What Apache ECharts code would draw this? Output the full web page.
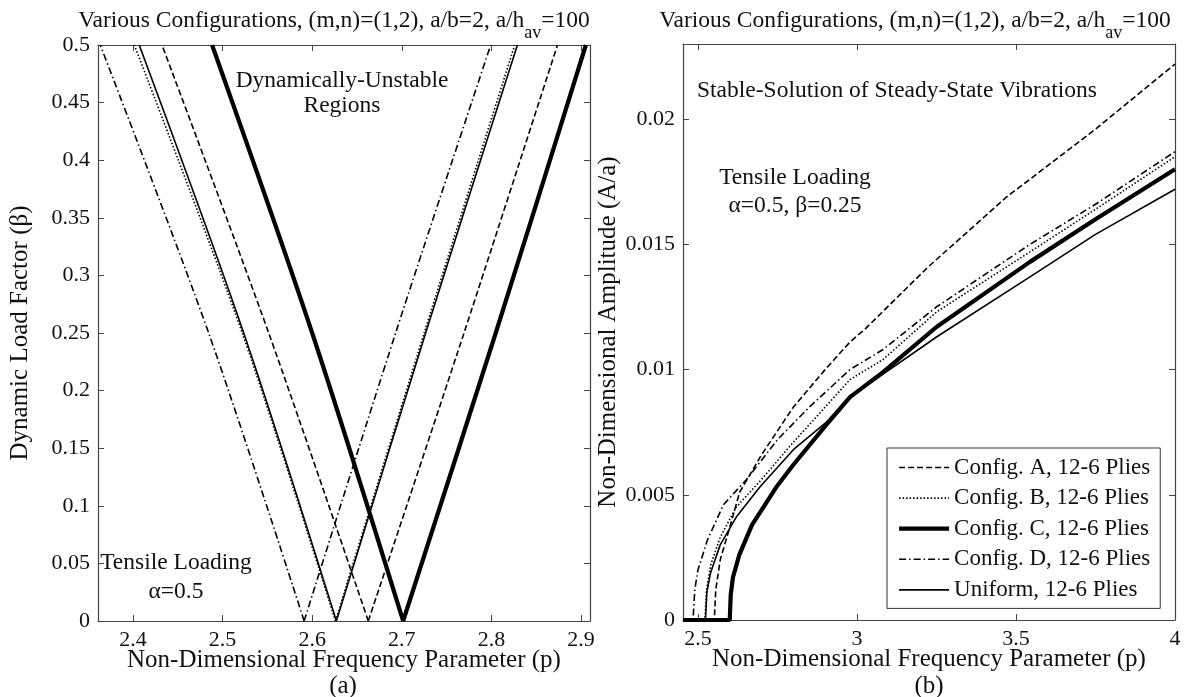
<!DOCTYPE html>
<html>
<head>
<meta charset="utf-8">
<script src="https://cdn.jsdelivr.net/npm/echarts@6/dist/echarts.min.js"></script>
<style>
  html, body { margin: 0; padding: 0; background: #fff; }
  #chart { width: 1196px; height: 697px; }
</style>
</head>
<body>
<div id="chart"></div>
<script>
// ---------- Panel (a): boundaries of the dynamic instability regions ----------
// beta levels for the lower branch (vertex -> top) and upper branch (vertex -> top)
const betaLevels = [0, 0.25, 0.5];

// frequency parameter p at each beta level
const regionLowA = [2.6626, 2.5515, 2.4324];
const regionHighA = [2.6626, 2.7694, 2.8737];
const regionLowB = [2.626, 2.522, 2.4015];
const regionHighB = [2.626, 2.725, 2.826];
const regionLowC = [2.7015, 2.600, 2.4883];
const regionHighC = [2.7015, 2.8048, 2.9054];
const regionLowD = [2.591, 2.4845, 2.3635];
const regionHighD = [2.591, 2.6931, 2.7992];
const regionLowU = [2.627, 2.5236, 2.407];
const regionHighU = [2.627, 2.7266, 2.829];

const xTicksA = [2.4, 2.5, 2.6, 2.7, 2.8, 2.9];

// ---------- Panel (b): steady-state amplitude A/a versus p ----------
const ampA = [[2.453,0],[2.5515,0],[2.556,0.0012],[2.57,0.0024],[2.60,0.0037],[2.631,0.0051],[2.668,0.0059],[2.70,0.0066],[2.80,0.0085],[2.90,0.0100],[2.978,0.0111],[3.024,0.0116],[3.224,0.0141],[3.471,0.0169],[3.544,0.0176],[3.75,0.0196],[4.0,0.0222]];
const ampB = [[2.453,0],[2.522,0],[2.527,0.0012],[2.54,0.0022],[2.57,0.0033],[2.62,0.0045],[2.699,0.0056],[2.80,0.0071],[2.90,0.0085],[2.978,0.0096],[3.082,0.0104],[3.25,0.0123],[3.544,0.0147],[3.75,0.0164],[4.0,0.0185]];
const ampC = [[2.453,0],[2.600,0],[2.603,0.0010],[2.61,0.0017],[2.63,0.0026],[2.67,0.0038],[2.746,0.0053],[2.80,0.0062],[2.904,0.0078],[2.978,0.0089],[3.082,0.0099],[3.25,0.0117],[3.544,0.0143],[3.75,0.0160],[4.0,0.0180]];
const ampD = [[2.453,0],[2.4845,0],[2.49,0.0012],[2.50,0.0020],[2.53,0.0032],[2.58,0.0046],[2.652,0.0056],[2.75,0.0072],[2.85,0.0085],[2.978,0.0100],[3.082,0.0108],[3.25,0.0125],[3.544,0.0150],[3.75,0.0166],[4.0,0.0187]];
const ampU = [[2.453,0],[2.5236,0],[2.528,0.0011],[2.54,0.0019],[2.57,0.0030],[2.62,0.0041],[2.694,0.0053],[2.80,0.0068],[2.904,0.0079],[2.978,0.0089],[3.25,0.0113],[3.544,0.0137],[3.75,0.0154],[4.0,0.0172]];

const xTicksB = [2.5, 3, 3.5, 4];

const seriesNames = [
  'Config. A, 12-6 Plies',
  'Config. B, 12-6 Plies',
  'Config. C, 12-6 Plies',
  'Config. D, 12-6 Plies',
  'Uniform, 12-6 Plies'
];

// ---------- styling ----------
const FONT = 'Liberation Serif';
const INK = '#111';
const AXIS = '#444';
const TICK_FS = 22;
const NAME_FS = 25;
const NOTE_FS = 23.5;

const lineStyles = [
  { color: '#000', width: 1.6, type: [6, 3] },          // A: dashed
  { color: '#000', width: 1.6, type: [1.5, 2] },        // B: dotted
  { color: '#000', width: 4.2, type: 'solid' },         // C: thick solid
  { color: '#000', width: 1.6, type: [7, 3, 1.5, 3] },  // D: dash-dot
  { color: '#000', width: 1.6, type: 'solid' }          // Uniform: thin solid
];

const branch = ps => ps.map((p, i) => [p, betaLevels[i]]);
const regionBranches = [
  [regionLowA, regionHighA],
  [regionLowB, regionHighB],
  [regionLowC, regionHighC],
  [regionLowD, regionHighD],
  [regionLowU, regionHighU]
];
const ampData = [ampA, ampB, ampC, ampD, ampU];

const fmt = v => String(+v.toFixed(4));

function xAxisPair(gridIndex, min, max, ticks, name) {
  const base = {
    type: 'value', gridIndex, min, max,
    axisLine: { show: true, onZero: false, lineStyle: { color: AXIS, width: 1.2 } },
    splitLine: { show: false }
  };
  return [
    Object.assign({}, base, {
      position: 'bottom',
      name, nameLocation: 'middle', nameGap: 27, nameMoveOverlap: false,
      nameTextStyle: { fontFamily: FONT, fontSize: NAME_FS, color: INK },
      axisTick: { inside: true, length: 6, lineStyle: { color: AXIS }, customValues: ticks },
      axisLabel: { fontFamily: FONT, fontSize: TICK_FS, color: INK, margin: 8, customValues: ticks, formatter: fmt }
    }),
    Object.assign({}, base, {
      position: 'top',
      axisTick: { inside: true, length: 6, lineStyle: { color: AXIS }, customValues: ticks },
      axisLabel: { show: false }
    })
  ];
}
function yAxisPair(gridIndex, min, max, interval, name, nameGap, showMax) {
  const base = {
    type: 'value', gridIndex, min, max, interval,
    axisLine: { show: true, onZero: false, lineStyle: { color: AXIS, width: 1.2 } },
    splitLine: { show: false }
  };
  return [
    Object.assign({}, base, {
      position: 'left',
      name, nameLocation: 'middle', nameGap, nameMoveOverlap: false,
      nameTextStyle: { fontFamily: FONT, fontSize: NAME_FS, color: INK },
      axisTick: { show: true, inside: true, length: 6, lineStyle: { color: AXIS } },
      axisLabel: { fontFamily: FONT, fontSize: TICK_FS, color: INK, margin: 8, formatter: fmt, showMaxLabel: showMax }
    }),
    Object.assign({}, base, {
      position: 'right',
      axisTick: { show: true, inside: true, length: 6, lineStyle: { color: AXIS } },
      axisLabel: { show: false }
    })
  ];
}

const series = [];
regionBranches.forEach((pair, i) => pair.forEach(ps => series.push({
  type: 'line', name: seriesNames[i], xAxisIndex: 0, yAxisIndex: 0,
  data: branch(ps), showSymbol: false, symbol: 'none', smooth: 0.3,
  lineStyle: lineStyles[i], z: i === 2 ? 3 : 2, silent: true, animation: false
})));
ampData.forEach((d, i) => series.push({
  type: 'line', name: seriesNames[i], xAxisIndex: 2, yAxisIndex: 2,
  data: d, showSymbol: false, symbol: 'none',
  lineStyle: lineStyles[i], z: i === 2 ? 3 : 2, silent: true, animation: false
}));

function titleText(x) {
  return {
    type: 'text', x, y: 21,
    style: {
      text: '{m|Various Configurations, (m,n)=(1,2), a/b=2, a/h}{s|av}{m|=100}',
      textAlign: 'center', textVerticalAlign: 'middle', fill: INK,
      rich: {
        m: { fontFamily: FONT, fontSize: 23.5, fill: INK },
        s: { fontFamily: FONT, fontSize: 18, fill: INK, padding: [24, 0, 0, 0] }
      }
    }
  };
}
function label(x, y, text, size, lh) {
  return {
    type: 'text', x, y,
    style: { text, font: (size || NOTE_FS) + 'px "' + FONT + '"', fill: INK,
             textAlign: 'center', textVerticalAlign: 'middle', lineHeight: lh || 28 }
  };
}

const chart = echarts.init(document.getElementById('chart'), null, { renderer: 'canvas' });
chart.setOption({
  backgroundColor: '#fff',
  animation: false,
  grid: [
    { left: 98, right: 606, top: 45, bottom: 76 },
    { left: 683, right: 21, top: 44, bottom: 77 }
  ],
  xAxis: [
    ...xAxisPair(0, 2.361, 2.910, xTicksA, 'Non-Dimensional Frequency Parameter (p)'),
    ...xAxisPair(1, 2.453, 4.0, xTicksB, 'Non-Dimensional Frequency Parameter (p)')
  ],
  yAxis: [
    ...yAxisPair(0, 0, 0.5, 0.05, 'Dynamic Load Factor (\u03b2)', 65, true),
    ...yAxisPair(1, 0, 0.0230, 0.005, 'Non-Dimensional Amplitude (A/a)', 62, false)
  ],
  legend: {
    data: seriesNames,
    orient: 'vertical',
    left: 887, top: 448,
    itemWidth: 50, itemHeight: 14, itemGap: 7.6,
    backgroundColor: '#fff',
    borderColor: '#333', borderWidth: 1,
    padding: [8, 10, 7, 10],
    selectedMode: false,
    itemStyle: { opacity: 0 },
    lineStyle: { width: 'inherit' },
    textStyle: { fontFamily: FONT, fontSize: 23, color: INK }
  },
  series,
  graphic: [
    titleText(334),
    titleText(915),
    label(342, 93.5, 'Dynamically-Unstable\nRegions', NOTE_FS, 25),
    label(176, 577.5, 'Tensile Loading\n\u03b1=0.5', NOTE_FS, 29),
    label(897, 91, 'Stable-Solution of Steady-State Vibrations'),
    label(795, 192, 'Tensile Loading\n\u03b1=0.5, \u03b2=0.25', NOTE_FS, 28),
    label(343, 686, '(a)', NAME_FS),
    label(929, 686, '(b)', NAME_FS)
  ]
});
</script>
</body>
</html>
